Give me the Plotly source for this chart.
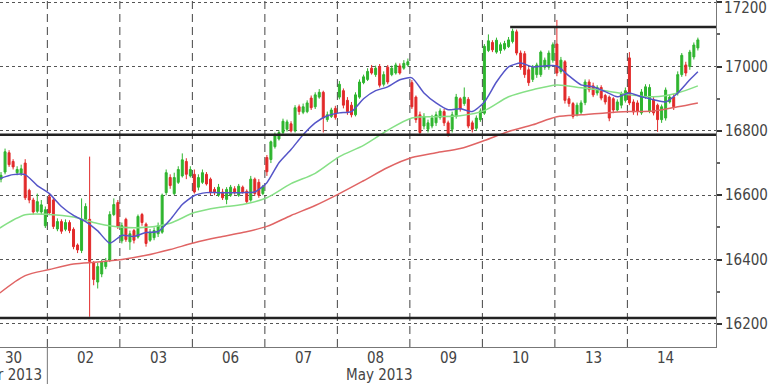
import plotly.graph_objects as go

# ---------------- data (O, H, L, C) per trading day, 18 bars/day ----------------
apr30 = [
    (16650, 16672, 16640, 16662), (16672, 16745, 16665, 16735), (16732, 16740, 16688, 16695),
    (16705, 16712, 16680, 16688), (16670, 16690, 16662, 16680), (16668, 16695, 16660, 16682),
    (16700, 16712, 16585, 16592), (16615, 16620, 16575, 16585), (16585, 16592, 16540, 16548),
    (16550, 16605, 16545, 16580), (16548, 16585, 16540, 16570), (16505, 16565, 16498, 16555),
]
may02 = [
    (16595, 16605, 16538, 16545), (16585, 16592, 16495, 16503), (16495, 16528, 16488, 16518),
    (16518, 16525, 16480, 16488), (16494, 16525, 16488, 16515), (16515, 16522, 16482, 16490),
    (16494, 16500, 16432, 16440), (16445, 16450, 16420, 16430), (16428, 16590, 16420, 16525),
    (16525, 16575, 16518, 16565), (16525, 16720, 16222, 16394), (16390, 16395, 16320, 16338),
    (16330, 16390, 16310, 16378), (16355, 16400, 16345, 16392), (16378, 16405, 16370, 16395),
    (16400, 16550, 16392, 16540), (16540, 16590, 16535, 16571), (16577, 16585, 16495, 16503),
]
may03 = [
    (16458, 16515, 16450, 16505), (16525, 16530, 16455, 16462), (16455, 16490, 16430, 16480),
    (16490, 16495, 16450, 16460), (16470, 16540, 16465, 16534), (16540, 16545, 16505, 16515),
    (16510, 16515, 16440, 16450), (16460, 16495, 16455, 16485), (16468, 16500, 16460, 16490),
    (16480, 16515, 16470, 16505), (16485, 16605, 16480, 16600), (16608, 16680, 16600, 16670),
    (16655, 16665, 16620, 16630), (16605, 16670, 16600, 16655), (16640, 16690, 16635, 16680),
    (16660, 16730, 16655, 16710), (16705, 16715, 16650, 16665), (16660, 16690, 16655, 16680),
]
may06 = [
    (16665, 16680, 16605, 16610), (16625, 16665, 16615, 16655), (16640, 16680, 16635, 16670),
    (16665, 16672, 16630, 16635), (16650, 16655, 16600, 16610), (16618, 16625, 16600, 16608),
    (16600, 16635, 16595, 16625), (16610, 16620, 16585, 16592), (16587, 16625, 16572, 16618),
    (16600, 16632, 16595, 16625), (16620, 16628, 16602, 16608), (16600, 16635, 16595, 16628),
    (16625, 16630, 16605, 16610), (16612, 16618, 16575, 16580), (16585, 16660, 16580, 16650),
    (16650, 16655, 16598, 16605), (16640, 16650, 16592, 16600), (16605, 16632, 16600, 16625),
]
may07 = [
    (16717, 16725, 16660, 16673), (16711, 16770, 16700, 16766), (16751, 16795, 16745, 16788),
    (16775, 16802, 16770, 16795), (16795, 16838, 16790, 16830), (16805, 16835, 16798, 16828),
    (16822, 16830, 16795, 16800), (16800, 16880, 16795, 16872), (16875, 16882, 16850, 16860),
    (16858, 16885, 16852, 16875), (16860, 16895, 16855, 16887), (16902, 16910, 16865, 16872),
    (16875, 16920, 16868, 16912), (16905, 16930, 16900, 16920), (16920, 16925, 16795, 16840),
    (16835, 16860, 16828, 16850), (16845, 16872, 16840, 16865), (16870, 16878, 16835, 16842),
]
may08 = [
    (16905, 16955, 16898, 16945), (16925, 16932, 16870, 16880), (16895, 16905, 16850, 16860),
    (16880, 16890, 16842, 16850), (16850, 16920, 16845, 16912), (16905, 16960, 16900, 16952),
    (16950, 16975, 16945, 16968), (16960, 16995, 16955, 16985), (16995, 17005, 16975, 16980),
    (16975, 17003, 16968, 16995), (17000, 17008, 16935, 16942), (16945, 16985, 16938, 16975),
    (16998, 17005, 16945, 16952), (16975, 17003, 16970, 16995), (16980, 17012, 16975, 17005),
    (17002, 17010, 16975, 16980), (16995, 17020, 16990, 17010), (17005, 17025, 17000, 17015),
]
may09 = [
    (16950, 16958, 16868, 16875), (16905, 16910, 16825, 16835), (16850, 16860, 16785, 16795),
    (16815, 16855, 16805, 16845), (16805, 16835, 16795, 16825), (16815, 16850, 16808, 16840),
    (16825, 16860, 16815, 16850), (16842, 16870, 16835, 16862), (16860, 16868, 16815, 16825),
    (16825, 16832, 16782, 16790), (16805, 16860, 16795, 16850), (16845, 16915, 16838, 16905),
    (16900, 16905, 16860, 16868), (16885, 16935, 16878, 16905), (16898, 16905, 16808, 16815),
    (16825, 16832, 16795, 16805), (16808, 16848, 16800, 16840), (16835, 16870, 16828, 16862),
]
may10 = [
    (16855, 17070, 16850, 17063), (17050, 17100, 17045, 17080), (17075, 17082, 17045, 17052),
    (17045, 17090, 17040, 17082), (17050, 17075, 17040, 17068), (17055, 17080, 17050, 17072),
    (17062, 17092, 17058, 17083), (17078, 17118, 17072, 17110), (17108, 17115, 17035, 17042),
    (17042, 17050, 16990, 16998), (17040, 17048, 16965, 16975), (16990, 16998, 16940, 16950),
    (16960, 17005, 16952, 16998), (16975, 17012, 16965, 17005), (16975, 17050, 16968, 17045),
    (16998, 17028, 16990, 17020), (16998, 17050, 16990, 17042), (17020, 17075, 17012, 17068),
]
may13 = [
    (17070, 17145, 16970, 16980), (16985, 17030, 16978, 17020), (17015, 17020, 16885, 16895),
    (16900, 16908, 16875, 16885), (16885, 16890, 16838, 16845), (16850, 16888, 16845, 16880),
    (16858, 16895, 16850, 16887), (16888, 16960, 16880, 16952), (16952, 16960, 16920, 16928),
    (16940, 16950, 16905, 16912), (16918, 16942, 16910, 16935), (16935, 16942, 16895, 16902),
    (16910, 16915, 16882, 16890), (16905, 16910, 16830, 16840), (16900, 16905, 16855, 16865),
    (16865, 16898, 16860, 16890), (16880, 16922, 16870, 16915), (16895, 16935, 16888, 16925),
]
may14 = [
    (17027, 17045, 16880, 16887), (16890, 16898, 16850, 16859), (16887, 16895, 16848, 16860),
    (16856, 16930, 16850, 16921), (16906, 16945, 16900, 16937), (16860, 16945, 16855, 16935),
    (16897, 16905, 16848, 16856), (16880, 16885, 16797, 16835), (16835, 16882, 16825, 16875),
    (16840, 16935, 16832, 16927), (16890, 16912, 16885, 16905), (16905, 16915, 16865, 16875),
    (16918, 16985, 16910, 16975), (16975, 17042, 16968, 17035), (17005, 17015, 16970, 16980),
    (17000, 17052, 16990, 17045), (17030, 17075, 17022, 17067), (17058, 17090, 17050, 17083),
]

day_labels = ["30", "02", "03", "06", "07", "08", "09", "10", "13", "14"]
month_labels = ["Apr 2013", "May 2013"]
y_ticks = [16200, 16400, 16600, 16800, 17000, 17200]
y_tick_text = ["16200", "16400", "16600", "16800", "17000", ""]
top_tick_label = "17200"

# moving averages (bar index, value)
ma_fast_idx = [5.7, 9, 12, 15, 18, 21, 24, 27, 30, 33, 36, 39, 42, 45, 48, 51, 54, 57, 60, 63, 66, 69,
               72, 75, 78, 81, 84, 87, 90, 93, 96, 99, 102, 105, 108, 111, 114, 117, 120, 123, 126,
               129, 132, 135, 138, 141, 144, 147, 150, 153, 156, 159, 162, 165, 168, 171, 174, 177, 179]
ma_fast = [16652, 16664, 16664, 16630, 16605, 16565, 16537, 16518, 16489, 16451, 16475, 16472, 16484,
           16487, 16524, 16571, 16599, 16608, 16608, 16608, 16608, 16610, 16639, 16701, 16742, 16788,
           16825, 16847, 16856, 16860, 16900, 16925, 16937, 16959, 16965, 16918, 16887, 16866, 16869,
           16860, 16890, 16952, 16999, 17011, 16999, 17002, 17002, 16971, 16943, 16937, 16922, 16906,
           16918, 16906, 16897, 16890, 16918, 16959, 16984]
ma_mid_idx = [5.7, 12, 18, 24, 30, 36, 42, 48, 54, 60, 66, 72, 78, 84, 90, 96, 102, 108, 114, 120,
              126, 132, 138, 144, 150, 156, 162, 168, 174, 179]
ma_mid = [16498, 16539, 16540, 16532, 16512, 16500, 16500, 16513, 16546, 16562, 16571, 16592, 16636,
          16668, 16720, 16755, 16802, 16840, 16844, 16847, 16863, 16906, 16928, 16943, 16934, 16925,
          16912, 16906, 16918, 16940]
ma_slow_idx = ma_mid_idx
ma_slow = [16296, 16350, 16369, 16386, 16392, 16400, 16413, 16431, 16452, 16469, 16484, 16503, 16537,
           16568, 16605, 16645, 16686, 16717, 16732, 16745, 16770, 16798, 16819, 16844, 16850, 16856,
           16860, 16862, 16875, 16887]

# horizontal support / resistance levels
level_support = 16788
level_low = 16218
level_top = 17123
level_top_start = 132.4

# ---------------- build ----------------
days = [apr30, may02, may03, may06, may07, may08, may09, may10, may13, may14]
bars = [b for d in days for b in d]
first_idx = 18 - len(apr30)
idx = list(range(first_idx, first_idx + len(bars)))
o = [b[0] for b in bars]
h = [b[1] for b in bars]
l = [b[2] for b in bars]
c = [b[3] for b in bars]

GREEN = "#2fb52f"
RED = "#e22a2a"
FONT = "Liberation Sans Narrow, DejaVu Sans Condensed, Arial Narrow, sans-serif"
TXT = "#444"

fig = go.Figure()
fig.add_trace(go.Candlestick(
    x=idx, open=o, high=h, low=l, close=c,
    increasing=dict(line=dict(color=GREEN, width=1), fillcolor=GREEN),
    decreasing=dict(line=dict(color=RED, width=1), fillcolor=RED),
    whiskerwidth=0, showlegend=False, hoverinfo="skip"))
fig.add_trace(go.Scatter(x=ma_slow_idx, y=ma_slow, mode="lines",
                         line=dict(color="#e06464", width=1.5, shape="spline", smoothing=0.8),
                         showlegend=False, hoverinfo="skip"))
fig.add_trace(go.Scatter(x=ma_mid_idx, y=ma_mid, mode="lines",
                         line=dict(color="#86e086", width=1.5, shape="spline", smoothing=0.8),
                         showlegend=False, hoverinfo="skip"))
fig.add_trace(go.Scatter(x=ma_fast_idx, y=ma_fast, mode="lines",
                         line=dict(color="#5555c8", width=1.5, shape="spline", smoothing=0.6),
                         showlegend=False, hoverinfo="skip"))

x_lo, x_hi = 5.745, 183.5
shapes = []
for k in range(1, len(days)):
    xb = k * 18 - 0.5
    shapes.append(dict(type="line", xref="x", yref="paper", x0=xb, x1=xb, y0=0, y1=1,
                       line=dict(color="#444", width=1, dash="8px,5px"), layer="below"))
shapes.append(dict(type="line", xref="x", yref="paper", x0=17.5, x1=17.5, y0=0, y1=-0.11,
                   line=dict(color="#777", width=1)))
for yv in (level_support, level_low):
    shapes.append(dict(type="line", xref="paper", yref="y", x0=0, x1=1, y0=yv, y1=yv,
                       line=dict(color="#222", width=2.5)))
shapes.append(dict(type="line", xref="x", yref="y", x0=level_top_start, x1=x_hi, y0=level_top, y1=level_top,
                   line=dict(color="#222", width=2.5)))

annotations = []
for k, lab in enumerate(day_labels):
    annotations.append(dict(x=k * 18 + 9, y=-0.032, xref="x", yref="paper", text=lab, showarrow=False,
                            yanchor="middle", font=dict(family=FONT, size=15, color=TXT)))
annotations.append(dict(x=8.4, y=-0.082, xref="x", yref="paper", text=month_labels[0], showarrow=False,
                        yanchor="middle", font=dict(family=FONT, size=15, color=TXT)))
annotations.append(dict(x=100, y=-0.082, xref="x", yref="paper", text=month_labels[1], showarrow=False,
                        yanchor="middle", font=dict(family=FONT, size=15, color=TXT)))
annotations.append(dict(x=1, xref="paper", y=y_ticks[-1], yref="y", text=top_tick_label, showarrow=False,
                        xanchor="left", yanchor="top", xshift=6, yshift=5,
                        font=dict(family=FONT, size=15, color=TXT)))

fig.update_layout(
    width=768, height=384,
    margin=dict(l=0, r=42, t=0, b=37),
    paper_bgcolor="white", plot_bgcolor="white",
    shapes=shapes, annotations=annotations,
    xaxis=dict(range=[x_lo, x_hi], showgrid=False, zeroline=False, showticklabels=False,
               showline=True, linecolor="#777", linewidth=1, rangeslider=dict(visible=False),
               fixedrange=True),
    yaxis=dict(side="right", range=[16128, 17207], tickvals=y_ticks, ticktext=y_tick_text,
               showgrid=True, gridcolor="#555", griddash="dot", gridwidth=1,
               ticks="outside", ticklen=5, tickcolor="#333", tickwidth=2,
               showline=True, linecolor="#777", linewidth=1, zeroline=False,
               minor=dict(tick0=16100, dtick=200, ticks="outside", ticklen=3, tickcolor="#666", showgrid=False),
               tickfont=dict(family=FONT, size=15, color=TXT), fixedrange=True),
)

fig.write_html("out.html")
